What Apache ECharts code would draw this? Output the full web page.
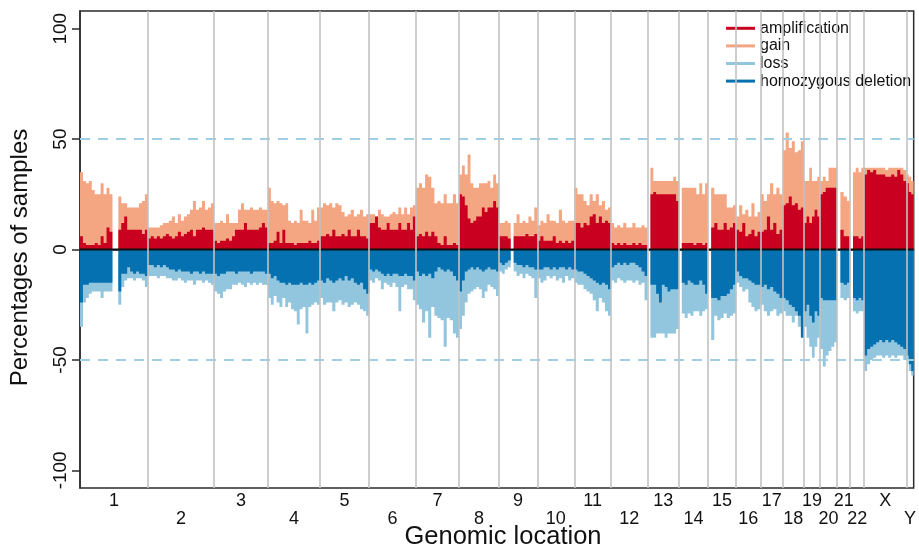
<!DOCTYPE html>
<html>
<head>
<meta charset="utf-8">
<script src="https://cdn.jsdelivr.net/npm/echarts@6.0.0/dist/echarts.min.js"></script>
<style>
html,body{margin:0;padding:0;background:#fff;}
#chart{width:919px;height:549px;}
</style>
</head>
<body>
<div id="chart"></div>
<script>
// ---- data ----
const chrNames = ['1','2','3','4','5','6','7','8','9','10','11','12','13','14','15','16','17','18','19','20','21','22','X','Y'];
const chrLengths = [249,243,198,191,181,171,159,146,141,136,135,134,115,107,103,90,81,78,59,63,48,51,155,27];

// percentage of samples, values spread evenly along each chromosome
const gainPct = [
  [35,31,30,31,27,25,25,30,25,28,25,0,0,24,21,21,19,19,19,19,21,22,25],
  [10,10,10,10,11,12,12,13,15,12,16,13,15,16,18,22,18,19,22,18,19,21],
  [12,12,13,12,16,12,12,12,18,21,18,18,19,18,18,19,18,18],
  [28,22,21,22,21,20,21,13,12,13,12,18,13,13,12,18,13,19],
  [19,21,20,21,19,21,20,17,15,16,18,15,16,18,15,16],
  [16,16,15,18,16,15,15,16,17,16,19,16,19,16,19,20],
  [28,30,28,34,33,28,21,22,21,25,21,21,25,21],
  [34,38,34,43,30,28,28,30,30,30,31,28,34,30],
  [12,12,13,12,0,12,16,12,13,12,15,13,19],
  [11,13,12,16,13,13,12,18,13,12,13,13],
  [28,25,25,22,20,25,22,25,20,22,18,19],
  [12,10,11,10,12,10,10,12,10,10,11,10],
  [0,37,31,31,31,31,31,31,31,33,31],
  [0,28,28,28,28,28,25,30,25,30],
  [0,28,25,25,25,25,19,19,20],
  [15,20,16,18,15,21,15,17],
  [25,22,25,30,25,28,25],
  [45,53,46,49,44,45,49],
  [31,31,37,31,31,33],
  [31,33,31,37,37,37],
  [0,26,24,22],
  [0,35,37,35,37],
  [37,37,37,37,37,37,37,36,37,37,37,37,37,36],
  [34,33,31]
];
const ampPct = [
  [6,3,2,2,2,3,2,6,3,10,8,0,0,9,12,15,9,9,9,9,9,7,9],
  [5,6,5,6,5,6,7,6,5,6,8,6,7,8,9,6,9,9,10,9,9,9],
  [4,3,4,4,5,4,6,9,9,9,12,9,9,9,9,10,12,10],
  [3,3,4,8,3,9,3,3,3,2,3,3,3,3,4,3,3,4],
  [6,6,7,6,9,6,6,7,6,9,6,6,9,6,6,5],
  [12,12,15,10,9,9,12,9,9,9,12,9,9,12,9,15],
  [6,7,6,8,6,8,6,3,2,6,2,2,3,2],
  [25,24,20,14,12,13,15,15,19,17,19,19,22,19],
  [6,6,6,5,0,6,6,6,6,7,6,6,7],
  [4,6,4,4,4,6,3,4,3,4,3,4],
  [12,12,10,12,11,15,16,12,15,12,13,12],
  [3,2,3,2,3,2,2,3,2,3,2,2],
  [0,25,26,25,25,25,25,25,25,25,22],
  [0,3,3,3,3,2,3,3,2,3],
  [0,10,12,9,9,12,9,10,12],
  [9,8,12,6,7,9,6,8],
  [8,9,15,9,12,7,9],
  [20,21,24,20,21,18,19],
  [12,15,12,15,18,15],
  [25,26,28,28,28,28],
  [0,9,6,6],
  [0,6,6,5,6],
  [34,36,35,36,34,34,34,33,33,34,33,36,34,31],
  [30,26,25]
];
const lossPct = [
  [-35,-24,-22,-20,-19,-19,-19,-22,-19,-19,-19,0,0,-25,-17,-14,-13,-13,-14,-13,-13,-14,-17],
  [-12,-12,-12,-13,-12,-12,-13,-13,-14,-14,-13,-14,-15,-14,-14,-16,-14,-14,-15,-14,-15,-16],
  [-19,-20,-22,-19,-18,-18,-16,-16,-15,-16,-17,-15,-16,-15,-16,-15,-16,-16],
  [-22,-25,-21,-24,-26,-22,-26,-24,-27,-28,-34,-27,-26,-38,-26,-25,-24,-25],
  [-22,-25,-24,-24,-28,-24,-23,-25,-24,-26,-25,-24,-25,-27,-28,-30],
  [-14,-15,-13,-14,-18,-15,-16,-17,-15,-17,-28,-17,-16,-18,-18,-23],
  [-25,-27,-33,-28,-40,-26,-30,-31,-32,-44,-31,-32,-38,-40],
  [-36,-30,-24,-20,-19,-18,-17,-18,-22,-19,-16,-17,-18,-21],
  [-10,-11,-9,-8,0,-10,-12,-11,-13,-11,-12,-13,-22],
  [-13,-15,-14,-12,-13,-12,-14,-13,-15,-12,-14,-13],
  [-15,-16,-16,-18,-19,-20,-23,-28,-22,-24,-28,-30],
  [-14,-15,-13,-14,-15,-14,-14,-15,-14,-16,-15,-23],
  [0,-40,-40,-38,-38,-38,-40,-38,-38,-38,-36],
  [0,-29,-31,-29,-30,-28,-28,-30,-28,-27],
  [0,-41,-30,-32,-31,-29,-31,-30,-29],
  [-15,-17,-19,-18,-24,-26,-28,-27],
  [-25,-28,-30,-28,-27,-30,-29],
  [-28,-30,-30,-33,-30,-35,-38],
  [-35,-40,-44,-49,-44,-40],
  [-45,-53,-48,-46,-44,-42],
  [0,-22,-23,-22],
  [0,-28,-29,-28,-28],
  [-55,-52,-50,-49,-48,-48,-49,-48,-49,-48,-49,-48,-48,-50],
  [-50,-55,-57]
];
const homdelPct = [
  [-24,-16,-16,-15,-15,-15,-15,-15,-15,-15,-15,0,0,-19,-11,-11,-8,-10,-11,-10,-11,-11,-12],
  [-7,-7,-8,-7,-8,-7,-8,-9,-9,-10,-9,-10,-10,-10,-11,-10,-10,-11,-10,-11,-11,-11],
  [-11,-12,-11,-11,-10,-10,-10,-11,-10,-10,-10,-10,-11,-10,-10,-10,-10,-11],
  [-11,-13,-12,-14,-15,-15,-16,-15,-16,-16,-16,-15,-16,-16,-15,-16,-15,-14],
  [-14,-15,-13,-14,-15,-14,-13,-14,-12,-14,-13,-15,-16,-15,-18,-20],
  [-9,-10,-9,-10,-11,-12,-11,-12,-11,-11,-12,-12,-11,-12,-12,-14],
  [-10,-12,-11,-12,-11,-13,-10,-8,-9,-10,-9,-10,-12,-14],
  [-19,-14,-10,-9,-8,-9,-8,-9,-10,-9,-8,-9,-9,-10],
  [-6,-7,-6,-5,0,-6,-7,-7,-8,-7,-8,-8,-9],
  [-9,-9,-8,-8,-9,-8,-9,-8,-8,-9,-8,-9],
  [-9,-10,-10,-11,-12,-13,-14,-15,-16,-15,-16,-18],
  [-8,-7,-6,-7,-6,-7,-6,-6,-7,-8,-10,-12],
  [0,-16,-16,-20,-24,-16,-17,-19,-18,-18,-18],
  [0,-15,-16,-14,-15,-16,-16,-14,-16,-20],
  [0,-22,-22,-23,-21,-21,-20,-18,-16],
  [-10,-12,-13,-13,-14,-15,-16,-16],
  [-17,-16,-18,-17,-19,-20,-22],
  [-22,-23,-25,-26,-28,-30,-40],
  [-28,-25,-30,-33,-28,-30],
  [-22,-23,-23,-23,-23,-23],
  [0,-15,-16,-15],
  [0,-22,-23,-22,-23],
  [-48,-45,-44,-43,-42,-41,-42,-41,-42,-41,-42,-43,-44,-45],
  [-48,-52,-55]
];
const yTicks = [-100, -50, 0, 50, 100];
const refLines = [50, -50];

// ---- layout helpers ----
const FONT = '"Liberation Sans", Arial, Helvetica, sans-serif';
const starts = [];
let acc = 0;
chrLengths.forEach(L => { starts.push(acc); acc += L; });
const genomeLen = acc;
const mids = chrLengths.map((L, i) => starts[i] + L / 2);
const bounds = starts.slice(1);

function stepData(vals) {
  const out = [];
  vals.forEach((arr, c) => {
    const L = chrLengths[c], n = arr.length;
    arr.forEach((v, i) => out.push([starts[c] + i * L / n, v]));
  });
  const last = vals[vals.length - 1];
  out.push([genomeLen, last[last.length - 1]]);
  return out;
}

function areaSeries(name, vals, color, z) {
  return {
    name: name, type: 'line', step: 'end', data: stepData(vals),
    symbol: 'none', showSymbol: false, color: color, z: z,
    lineStyle: { width: 0, color: color },
    areaStyle: { color: color, opacity: 1, origin: 0 },
    silent: true, animation: false
  };
}

const chart = echarts.init(document.getElementById('chart'), null, { renderer: 'canvas' });

const gainS = areaSeries('gain', gainPct, '#F4A582', 1);
gainS.markLine = {
  silent: true, symbol: ['none', 'none'], label: { show: false },
  lineStyle: { color: '#9fcfe4', type: [10, 8], width: 2 },
  data: refLines.map(v => ({ yAxis: v }))
};

const option = {
  animation: false,
  backgroundColor: '#ffffff',
  grid: { left: 80, right: 3, top: 11, bottom: 61, show: true, borderColor: '#2b2b2b', borderWidth: 1.5, backgroundColor: 'transparent' },
  legend: {
    orient: 'vertical', left: 726, top: 19.5, padding: 0, itemWidth: 29, itemHeight: 3, itemGap: 0,
    icon: 'rect', selectedMode: false,
    textStyle: { fontSize: 16, lineHeight: 17.6, color: '#111', fontFamily: FONT },
    data: ['amplification', 'gain', 'loss', 'homozygous deletion']
  },
  xAxis: {
    type: 'value', min: 0, max: genomeLen,
    axisLine: { show: true, lineStyle: { color: '#2b2b2b', width: 1.5 } },
    axisTick: { show: false },
    splitLine: { show: false },
    axisLabel: {
      customValues: mids, margin: 4, fontSize: 18, lineHeight: 18, color: '#111', fontFamily: FONT,
      formatter: function (v) {
        let best = 0, bd = Infinity;
        mids.forEach((m, i) => { const d = Math.abs(m - v); if (d < bd) { bd = d; best = i; } });
        return best % 2 === 0 ? chrNames[best] : '\n' + chrNames[best];
      }
    }
  },
  yAxis: {
    type: 'value', min: -108, max: 108,
    axisLine: { show: true, lineStyle: { color: '#2b2b2b', width: 1.5 } },
    axisTick: { show: true, customValues: yTicks, length: 8, lineStyle: { color: '#2b2b2b', width: 1.5 } },
    axisLabel: { customValues: yTicks, rotate: 90, margin: 10, fontSize: 19, color: '#111', fontFamily: FONT },
    splitLine: { show: false }
  },
  graphic: [
    { type: 'text', x: 20.7, y: 257.5, rotation: Math.PI / 2,
      style: { text: 'Percentages of samples', fontSize: 24, fontFamily: FONT, fill: '#111', align: 'center', verticalAlign: 'middle' } },
    { type: 'text', x: 503, y: 537,
      style: { text: 'Genomic location', fontSize: 25.5, fontFamily: FONT, fill: '#111', align: 'center', verticalAlign: 'middle' } }
  ],
  series: [
    gainS,
    areaSeries('amplification', ampPct, '#CA0020', 2),
    areaSeries('loss', lossPct, '#92C5DE', 1),
    areaSeries('homozygous deletion', homdelPct, '#0571B0', 2),
    {
      name: 'baseline', type: 'line', data: [[0, 0], [genomeLen, 0]], symbol: 'none', z: 4, silent: true,
      lineStyle: { color: '#111', width: 1.8 },
      markLine: {
        silent: true, symbol: ['none', 'none'], label: { show: false },
        lineStyle: { color: '#c2c2c2', type: 'solid', width: 1.6 },
        data: bounds.map(b => ({ xAxis: b }))
      }
    }
  ]
};
chart.setOption(option);
</script>
</body>
</html>
